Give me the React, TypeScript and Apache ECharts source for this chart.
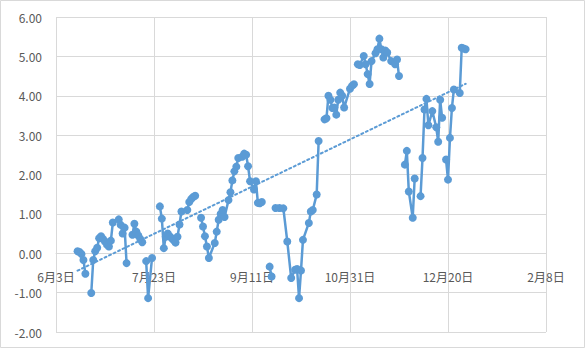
import React, { useEffect, useRef } from "react";
import * as echarts from "echarts";

const START_DATE = "2019-06-03";
const X_SPAN_DAYS = 250;
const X_TICK_DAYS = 50;
const Y_MIN = -2;
const Y_MAX = 6;
const Y_STEP = 1;

const dates: string[] = [
  "2019-06-14", "2019-06-15", "2019-06-16", "2019-06-17", "2019-06-18", "2019-06-19",
  "2019-06-21", "2019-06-22", "2019-06-23", "2019-06-24", "2019-06-25", "2019-06-26",
  "2019-06-27", "2019-06-28", "2019-06-29", "2019-06-30", "2019-07-01", "2019-07-02",
  "2019-07-05", "2019-07-06", "2019-07-07", "2019-07-08", "2019-07-09", "2019-07-10",
  "2019-07-12", "2019-07-13", "2019-07-14", "2019-07-15", "2019-07-16", "2019-07-17",
  "2019-07-18", "2019-07-19", "2019-07-20", "2019-07-22", "2019-07-23",
  "2019-07-26", "2019-07-27", "2019-07-28", "2019-07-29", "2019-07-30", "2019-07-31",
  "2019-08-01", "2019-08-02", "2019-08-03", "2019-08-04", "2019-08-05", "2019-08-06",
  "2019-08-09", "2019-08-10", "2019-08-11", "2019-08-12", "2019-08-13", "2019-08-14",
  "2019-08-16", "2019-08-17", "2019-08-18", "2019-08-19", "2019-08-20",
  "2019-08-23", "2019-08-24", "2019-08-25", "2019-08-26", "2019-08-27", "2019-08-28",
  "2019-08-30", "2019-08-31", "2019-09-01", "2019-09-02", "2019-09-03", "2019-09-04",
  "2019-09-06", "2019-09-07", "2019-09-08", "2019-09-09", "2019-09-10",
  "2019-09-12", "2019-09-13", "2019-09-14", "2019-09-15", "2019-09-16", "2019-09-17",
  "2019-09-20", "2019-09-21", "2019-09-22",
  "2019-09-23", "2019-09-25", "2019-09-27", "2019-09-29", "2019-10-01", "2019-10-03",
  "2019-10-04", "2019-10-05", "2019-10-06", "2019-10-07", "2019-10-10", "2019-10-11",
  "2019-10-12", "2019-10-14", "2019-10-15", "2019-10-16",
  "2019-10-18", "2019-10-19", "2019-10-20", "2019-10-21", "2019-10-22", "2019-10-23",
  "2019-10-24", "2019-10-25", "2019-10-26", "2019-10-27", "2019-10-28", "2019-10-31",
  "2019-11-01", "2019-11-02", "2019-11-03",
  "2019-11-04", "2019-11-05", "2019-11-07", "2019-11-08", "2019-11-09", "2019-11-10",
  "2019-11-11", "2019-11-13", "2019-11-14", "2019-11-15", "2019-11-16", "2019-11-17",
  "2019-11-18", "2019-11-19", "2019-11-21", "2019-11-23", "2019-11-24", "2019-11-25",
  "2019-11-26",
  "2019-11-28", "2019-11-29", "2019-11-30", "2019-12-02", "2019-12-03", "2019-12-04",
  "2019-12-06", "2019-12-07", "2019-12-08", "2019-12-09", "2019-12-10", "2019-12-12",
  "2019-12-14", "2019-12-15", "2019-12-16", "2019-12-17", "2019-12-18",
  "2019-12-19", "2019-12-20", "2019-12-21", "2019-12-22", "2019-12-23", "2019-12-26",
  "2019-12-27", "2019-12-28", "2019-12-29",
];

const values: (number | null)[] = [
  0.05, 0.03, -0.02, -0.17, -0.52, null,
  -1.01, -0.17, 0.05, 0.14, 0.38, 0.43,
  0.36, 0.30, 0.22, 0.17, 0.32, 0.78,
  0.86, 0.72, 0.50, 0.65, -0.25, null,
  0.47, 0.75, 0.55, 0.45, 0.36, 0.28,
  null, -0.20, -1.14, -0.12, null,
  1.19, 0.88, 0.13, 0.42, 0.50, 0.43,
  0.38, 0.33, 0.27, 0.42, 0.73, 1.06,
  1.10, 1.30, 1.38, 1.43, 1.46, null,
  0.90, 0.68, 0.43, 0.17, -0.12,
  0.26, 0.55, 0.85, 1.00, 1.10, 0.92,
  1.35, 1.55, 1.85, 2.08, 2.20, 2.42,
  2.45, 2.53, 2.50, 2.21, 1.83,
  1.62, 1.83, 1.28, 1.27, 1.30, null,
  -0.34, -0.59, null,
  1.15, 1.15, 1.14, 0.30, -0.63, -0.42,
  -0.40, -1.14, -0.44, 0.34, 0.77, 1.06,
  1.10, 1.49, 2.85, null,
  3.40, 3.43, 4.00, 3.90, 3.69, 3.70,
  3.52, 3.90, 4.08, 4.00, 3.70, 4.18,
  4.25, 4.29, null,
  4.80, 4.78, 5.01, 4.80, 4.55, 4.30,
  4.88, 5.08, 5.18, 5.45, 5.18, 4.97,
  5.15, 5.10, 4.88, 4.80, 4.92, 4.50,
  null,
  2.25, 2.60, 1.57, 0.90, 1.90, null,
  1.45, 2.42, 3.65, 3.92, 3.25, 3.61,
  3.20, 2.83, 3.90, 3.44, null,
  2.38, 1.87, 2.93, 3.69, 4.16, 4.07,
  5.22, 5.20, 5.18,
];

const DAY_MS = 86400000;
const startMs = Date.parse(START_DATE + "T00:00:00Z");
const dayOffset = (iso: string) => Math.round((Date.parse(iso + "T00:00:00Z") - startMs) / DAY_MS);
const dayLabel = (off: number) => {
  const d = new Date(startMs + off * DAY_MS);
  return `${d.getUTCMonth() + 1}月${d.getUTCDate()}日`;
};

const BLUE = "#5b9bd5";
const GRID = "#d9d9d9";
const TEXT = "#595959";
const FONT = "'Noto Sans CJK SC', 'Microsoft YaHei', sans-serif";

const W = 586;
const H = 349;
const GRID_LEFT = 56;
const GRID_RIGHT = 40;
const GRID_TOP = 17;
const GRID_BOTTOM = 17;

export default function App() {
  const ref = useRef<HTMLDivElement>(null);
  useEffect(() => {
    if (!ref.current) return;
    const chart = echarts.init(ref.current, undefined, { renderer: "svg" });
    const pts = dates.map((d, i) => [dayOffset(d), values[i] === null ? "-" : values[i]]);
    // linear trendline (least squares) over non-empty points
    const valid = dates
      .map((d, i) => [dayOffset(d), values[i]] as [number, number | null])
      .filter((p) => p[1] !== null) as [number, number][];
    const n = valid.length;
    const mx = valid.reduce((s, p) => s + p[0], 0) / n;
    const my = valid.reduce((s, p) => s + p[1], 0) / n;
    const sxy = valid.reduce((s, p) => s + (p[0] - mx) * (p[1] - my), 0);
    const sxx = valid.reduce((s, p) => s + (p[0] - mx) * (p[0] - mx), 0);
    const slope = sxy / sxx;
    const icpt = my - slope * mx;
    const x0 = valid[0][0];
    const x1 = valid[n - 1][0];
    const trend = [
      [x0, icpt + slope * x0],
      [x1, icpt + slope * x1],
    ];

    // place the category axis on the y = 0 line (as Excel does)
    const plotH = H - GRID_TOP - GRID_BOTTOM;
    const zeroFromBottom = (plotH * (0 - Y_MIN)) / (Y_MAX - Y_MIN);

    chart.setOption({
      animation: false,
      backgroundColor: "#ffffff",
      textStyle: { fontFamily: FONT },
      graphic: [
        {
          type: "rect",
          shape: { x: 0.5, y: 0.5, width: W - 2, height: H - 2 },
          style: { fill: "none", stroke: GRID, lineWidth: 1 },
          silent: true,
          z: -1,
        },
      ],
      grid: {
        left: GRID_LEFT,
        right: GRID_RIGHT,
        top: GRID_TOP,
        bottom: GRID_BOTTOM,
        containLabel: false,
        outerBoundsMode: "none",
      },
      xAxis: {
        type: "value",
        min: 0,
        max: X_SPAN_DAYS,
        interval: X_TICK_DAYS,
        offset: -zeroFromBottom,
        axisLine: { show: true, onZero: false, lineStyle: { color: GRID, width: 1 } },
        axisTick: { show: false },
        axisLabel: {
          margin: 17,
          color: TEXT,
          fontSize: 12,
          fontFamily: FONT,
          formatter: (v: number) => dayLabel(v),
          showMinLabel: true,
          showMaxLabel: true,
          hideOverlap: false,
        },
        splitLine: { show: true, lineStyle: { color: GRID, width: 1 } },
      },
      yAxis: {
        type: "value",
        min: Y_MIN,
        max: Y_MAX,
        interval: Y_STEP,
        axisLine: { show: false, onZero: false },
        axisTick: { show: false },
        axisLabel: {
          margin: 14,
          color: TEXT,
          fontSize: 12,
          fontFamily: FONT,
          formatter: (v: number) => v.toFixed(2),
        },
        splitLine: { show: true, lineStyle: { color: GRID, width: 1 } },
      },
      series: [
        {
          type: "line",
          data: pts,
          connectNulls: false,
          symbol: "circle",
          symbolSize: 8,
          showSymbol: true,
          itemStyle: { color: BLUE },
          lineStyle: { color: BLUE, width: 2.5 },
          z: 2,
        },
        {
          type: "line",
          data: trend,
          symbol: "none",
          lineStyle: { color: BLUE, width: 2, type: [2, 3], cap: "round" },
          z: 3,
        },
      ],
    });
    return () => chart.dispose();
  }, []);
  return (
    <div
      ref={ref}
      style={{ position: "fixed", left: 0, top: 0, width: W, height: H, background: "#fff" }}
    />
  );
}
